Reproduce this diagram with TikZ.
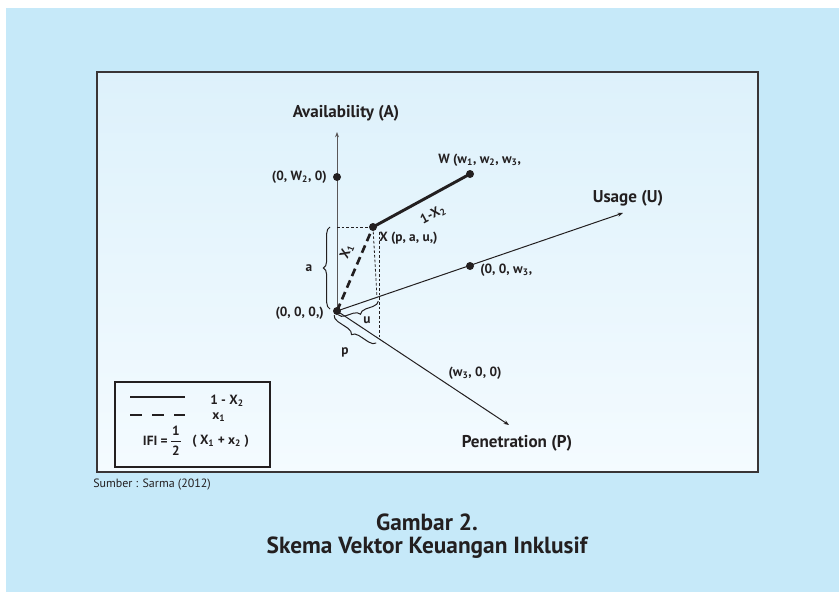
\documentclass[tikz,border=0pt]{standalone}
\usepackage{fontspec}
\setmainfont{PT Sans}
\usetikzlibrary{decorations.pathreplacing,arrows.meta}
\definecolor{outerblue}{HTML}{C6E9F9}
\definecolor{innertop}{HTML}{DDF1FB}
\definecolor{innerbot}{HTML}{F4FBFF}
\definecolor{ink}{HTML}{231F20}
\begin{document}
\begin{tikzpicture}[x=0.75pt,y=-0.75pt,
  biglbl/.style={font=\bfseries\fontsize{12.8}{15}\selectfont, text=ink, inner sep=0pt},
  lbl/.style={font=\bfseries\fontsize{10}{12}\selectfont, text=ink, inner sep=0pt},
  axisline/.style={line width=0.75pt, ink, -{Stealth[length=4pt,width=3pt]}},
  dotnode/.style={circle, fill=ink, inner sep=0pt, minimum size=6pt},
  guide/.style={line width=0.6pt, ink, dash pattern=on 2pt off 1.5pt},
  bracestyle/.style={decorate, decoration={brace, amplitude=5pt}, line width=0.75pt, ink},
  mbracestyle/.style={decorate, decoration={brace, mirror, amplitude=5pt}, line width=0.75pt, ink}]
\useasboundingbox (0,0) rectangle (839,592);
\fill[outerblue] (6,8) rectangle (839,592);
\shade[top color=innertop,bottom color=innerbot] (97,72) rectangle (758,472);
\draw[line width=1.5pt, ink!90] (97,72) rectangle (758,472);

% axes
\coordinate (O) at (337,311);
\coordinate (Atip) at (337,132);
\coordinate (Utip) at (623,213);
\coordinate (Ptip) at (509,425);
\draw[axisline, ink!75] (O) -- (Atip);
\draw[axisline] (O) -- (Utip);
\draw[axisline] (O) -- (Ptip);

\node[biglbl] (Alab) at (346,113) {Availability (A)};
\node[biglbl] (Ulab) at (628,198) {Usage (U)};
\node[biglbl] (Plab) at (517,443) {Penetration (P)};

% guides
\coordinate (Xa) at (337,227);
\coordinate (Xu) at (377,298);
\coordinate (Xp1) at (379,232);
\coordinate (Xp2) at (379,337);
\node[dotnode] (X) at (373,227) {};
\draw[guide] (Xa) -- (X.center);
\draw[guide] (X.center) -- (Xu);
\draw[guide] (Xp1) -- (Xp2);

% points
\node[dotnode] (A2) at (337,177) {};
\node[dotnode] (W) at (470,174) {};
\node[dotnode] (U3) at (470,266) {};
\node[dotnode] (O0) at (O) {};

% vectors
\draw[line width=2.2pt, ink] (X.center) -- (W.center);
\draw[line width=2pt, ink, dash pattern=on 6pt off 3.5pt] (O0.center) -- (X.center);

% point labels
\node[lbl, anchor=east] (A2lab) at (327,177) {(0, W\textsubscript{2}, 0)};
\node[lbl, anchor=west] (Wlab) at (438,160) {W (w\textsubscript{1}, w\textsubscript{2}, w\textsubscript{3},};
\node[lbl, anchor=west] (Xlab) at (379,238) {X (p, a, u,)};
\node[lbl, anchor=west] (U3lab) at (480,270) {(0, 0, w\textsubscript{3},};
\node[lbl, anchor=center] (P3lab) at (475,373) {(w\textsubscript{3}, 0, 0)};
\node[lbl, anchor=east] (Olab) at (324,313) {(0, 0, 0,)};
\node[lbl, rotate=67.6] (x1lab) at (347,251) {X\textsubscript{1}};
\node[lbl, rotate=28] (x2lab) at (433,215) {1-X\textsubscript{2}};

% braces
\coordinate (ab1) at (330,309);
\coordinate (ab2) at (330,227);
\draw[bracestyle] (ab1) -- (ab2);
\node[lbl] (alab) at (309,268) {a};
\coordinate (ub1) at (338.3,314.8);
\coordinate (ub2) at (378.3,301.1);
\draw[mbracestyle] (ub1) -- (ub2);
\node[lbl] (ulab) at (367,320) {u};
\coordinate (pb1) at (334.2,315.2);
\coordinate (pb2) at (376.2,343);
\draw[mbracestyle] (pb1) -- (pb2);
\node[lbl] (plab) at (345,352) {p};

% legend
\draw[line width=1pt, ink] (115,382) rectangle (270,467);
\coordinate (s1) at (130,397); \coordinate (s2) at (185,397);
\draw[line width=2.2pt, ink] (s1) -- (s2);
\coordinate (d1) at (130,415); \coordinate (d2) at (185,415);
\draw[line width=2.2pt, ink, dash pattern=on 9pt off 7.5pt] (d1) -- (d2);
\node[lbl, anchor=west] (leg1) at (210,401) {1 - X\textsubscript{2}};
\node[lbl, anchor=west] (leg2) at (212,417) {x\textsubscript{1}};
\node[lbl, anchor=east] (ifi) at (168,441) {IFI =};
\node[lbl] (num) at (176,431) {1};
\node[lbl] (den) at (176,451) {2};
\coordinate (fb1) at (171,441); \coordinate (fb2) at (181,441);
\draw[line width=0.7pt, ink] (fb1) -- (fb2);
\node[lbl, anchor=west] (ifir) at (192,441) {( X\textsubscript{1} + x\textsubscript{2} )};

% captions
\node[font=\fontsize{9}{11}\selectfont, text=ink, anchor=west, inner sep=0pt] (src) at (93,485) {Sumber : Sarma (2012)};
\node[font=\bfseries\fontsize{17.5}{20}\selectfont, text=ink, inner sep=0pt] (cap1) at (427,522) {Gambar 2.};
\node[font=\bfseries\fontsize{17.5}{20}\selectfont, text=ink, inner sep=0pt] (cap2) at (427,548) {Skema Vektor Keuangan Inklusif};
\end{tikzpicture}
\end{document}
